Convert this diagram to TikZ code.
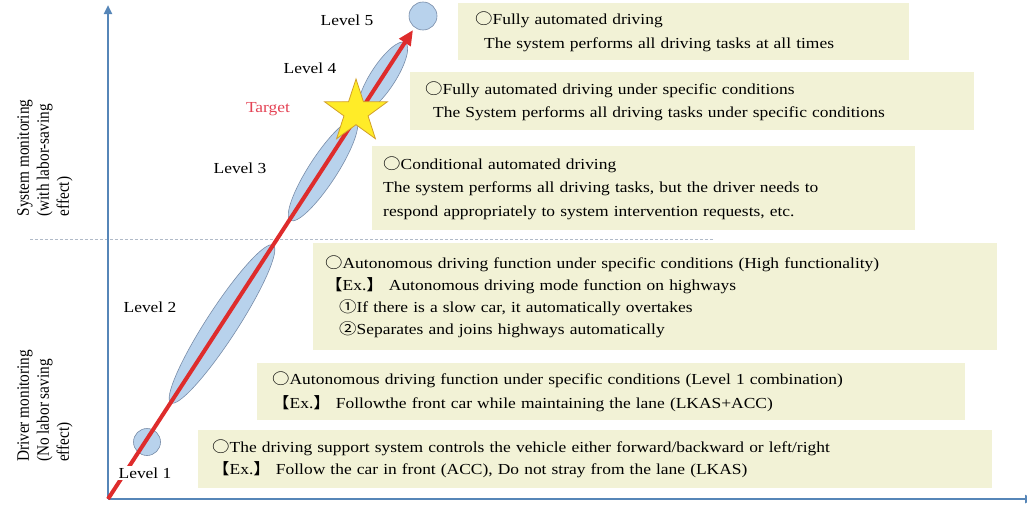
\documentclass[tikz,border=0pt]{standalone}
\usepackage{fontspec}
\setmainfont{Liberation Serif}[FakeStretch=1.14]
\newfontfamily\sidefont{Liberation Serif}
\newfontfamily\cjk{Noto Sans CJK JP}[FakeStretch=1.14]
\usetikzlibrary{shapes.geometric,arrows.meta}

\definecolor{boxfill}{RGB}{242,242,214}
\definecolor{axisblue}{RGB}{86,134,184}
\definecolor{blobfill}{RGB}{184,210,236}
\definecolor{blobline}{RGB}{120,140,168}
\definecolor{pathred}{RGB}{222,44,44}
\definecolor{targetred}{RGB}{228,66,84}
\definecolor{stargold}{RGB}{255,236,40}
\definecolor{staredge}{RGB}{210,160,40}
\definecolor{splitgray}{RGB}{176,186,200}

\newcommand{\wc}{{\cjk ○}}
\newcommand{\exmark}{{\cjk 【}Ex.{\cjk 】}}

\begin{document}
\begin{tikzpicture}[x=1pt,y=-1pt,
  stage/.style={fill=boxfill, anchor=north west, align=left, inner ysep=0pt,
    font=\fontsize{15.3}{23.5}\selectfont},
  blob/.style={ellipse, fill=blobfill, draw=blobline, line width=0.6pt, inner sep=0pt},
  lvl/.style={font=\fontsize{15.3}{18}\selectfont},
  side/.style={xscale=1.14, rotate=90, align=left, font=\sidefont\fontsize{15.3}{17.5}\selectfont},
  axis/.style={axisblue, line width=2.6pt, -{Triangle[length=9pt,width=8pt]}},
]
\useasboundingbox (0,0) rectangle (1027,506);

% axes and the split between the two kinds of monitoring
\coordinate (origin) at (108,499);
\coordinate (ytop) at (108,5);
\coordinate (xend) at (1034,499);
\coordinate (splitl) at (30,239);
\coordinate (splitr) at (713,239);
\draw[splitgray, line width=1pt, dash pattern=on 3pt off 2pt] (splitl) -- (splitr);
\draw[axis] (origin) -- (ytop);
\draw[axis] (origin) -- (xend);

% level ranges along the path
\node[blob, minimum width=27pt, minimum height=27pt] (lvlone) at (147,442) {};
\node[blob, minimum width=188pt, minimum height=31pt, rotate=57] (lvltwo) at (222,324) {};
\node[blob, minimum width=120pt, minimum height=28pt, rotate=57] (lvlthree) at (323,170) {};
\node[blob, minimum width=82pt, minimum height=25pt, rotate=57] (lvlfour) at (383,77) {};
\node[blob, minimum width=28pt, minimum height=28pt] (lvlfive) at (423,16) {};

\coordinate (tip) at (413,30);
\draw[pathred, line width=4pt, -{Triangle[length=15pt,width=13pt]}] (origin) -- (tip);

\node[star, star points=5, star point ratio=2.6, minimum size=66pt, inner sep=0pt,
  fill=stargold, draw=staredge, line width=0.8pt] (target) at (356,112) {};

% level names
\node[lvl] (lblfive) at (347,20) {Level 5};
\node[lvl] (lblfour) at (310,68) {Level 4};
\node[lvl, text=targetred] (lbltarget) at (268,109) {Target};
\node[lvl] (lblthree) at (240,168) {Level 3};
\node[lvl] (lbltwo) at (150,307) {Level 2};
\node[lvl, fill=white, inner sep=2pt] (lblone) at (145,473) {Level 1};

\node[side] (sysmon) at (45,158) {System monitoring\\(with labor-saving\\effect)};
\node[side] (drvmon) at (45,406) {Driver monitoring\\(No labor saving\\effect)};

% descriptions
\node[stage, text width=417pt, inner xsep=17pt, minimum height=57pt] (boxfive) at (458,3)
  {\wc Fully automated driving\\\hspace*{9pt}The system performs all driving tasks at all times};
\node[stage, text width=534pt, inner xsep=15pt, minimum height=58pt] (boxfour) at (410,72)
  {\wc Fully automated driving under specific conditions\\\hspace*{8pt}The System performs all driving tasks under specific conditions};
\node[stage, text width=521pt, inner xsep=11pt, minimum height=84pt] (boxthree) at (372,146)
  {\wc Conditional automated driving\\The system performs all driving tasks, but the driver needs to\\respond appropriately to system intervention requests, etc.};
\node[stage, text width=660pt, inner xsep=12pt, minimum height=107pt,
  font=\fontsize{15.3}{22}\selectfont] (boxtwo) at (313,243)
  {\wc Autonomous driving function under specific conditions (High functionality)\\
   \exmark\ Autonomous driving mode function on highways\\
   \hspace*{14pt}{\cjk ①}If there is a slow car, it automatically overtakes\\
   \hspace*{14pt}{\cjk ②}Separates and joins highways automatically};
\node[stage, text width=678pt, inner xsep=15pt, minimum height=57pt] (boxonebis) at (257,363)
  {\wc Autonomous driving function under specific conditions (Level 1 combination)\\
   \exmark\ Followthe front car while maintaining the lane (LKAS+ACC)};
\node[stage, text width=766pt, inner xsep=14pt, minimum height=58pt,
  font=\fontsize{15.3}{22}\selectfont] (boxone) at (198,430)
  {\wc The driving support system controls the vehicle either forward/backward or left/right\\
   \exmark\ Follow the car in front (ACC), Do not stray from the lane (LKAS)};
\end{tikzpicture}
\end{document}
